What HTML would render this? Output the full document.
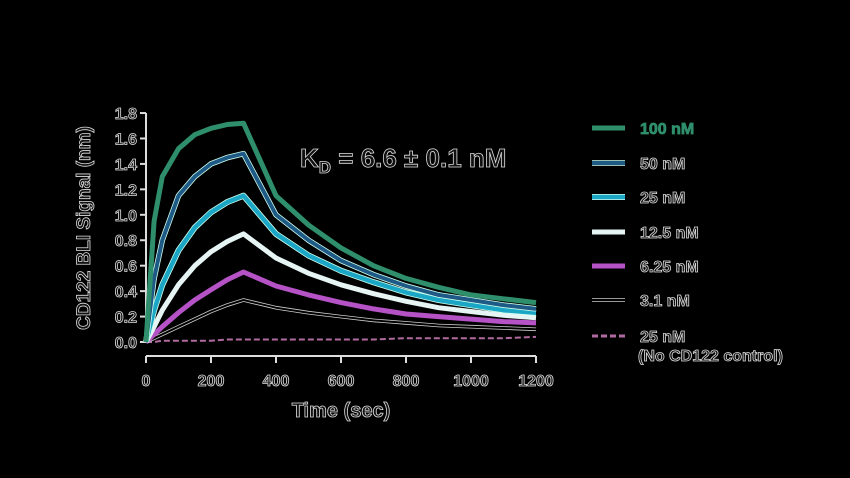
<!DOCTYPE html>
<html><head><meta charset="utf-8"><style>
body{margin:0;background:#000;}
svg text{font-family:"Liberation Sans",sans-serif;font-weight:bold;fill:#111;stroke:#ddd;stroke-width:0.8px;paint-order:normal;}
</style></head><body>
<svg id="chart" width="850" height="478" xmlns="http://www.w3.org/2000/svg" style="display:block;background:#000">
<g id="axes"></g>
<g id="series"></g>
<g id="legend"></g>
<text x="300" y="167" font-size="26">K<tspan font-size="17" dy="6">D</tspan><tspan dy="-6"> = 6.6 ± 0.1 nM</tspan></text>
<text x="341" y="417" font-size="20" text-anchor="middle">Time (sec)</text>
<text x="0" y="0" font-size="19" text-anchor="middle" transform="translate(90,228) rotate(-90)">CD122 BLI Signal (nm)</text>
</svg>
<script>
const times=[0,25,50,100,150,200,250,300,400,500,600,700,800,900,1000,1100,1200];
const s100=[0,0.95,1.3,1.52,1.63,1.68,1.71,1.72,1.15,0.92,0.74,0.6,0.5,0.43,0.37,0.34,0.31];
const s50=[0,0.5,0.8,1.15,1.3,1.4,1.45,1.48,1.0,0.8,0.64,0.53,0.44,0.37,0.33,0.29,0.26];
const s25=[0,0.25,0.45,0.72,0.9,1.02,1.1,1.15,0.85,0.68,0.56,0.47,0.39,0.33,0.29,0.25,0.23];
const s12=[0,0.12,0.25,0.45,0.6,0.71,0.79,0.85,0.66,0.54,0.45,0.38,0.32,0.27,0.24,0.21,0.19];
const s6=[0,0.06,0.12,0.23,0.33,0.41,0.49,0.55,0.44,0.37,0.31,0.26,0.22,0.2,0.18,0.16,0.15];
const s3=[0,0.03,0.06,0.12,0.18,0.24,0.29,0.33,0.27,0.23,0.2,0.17,0.15,0.13,0.12,0.11,0.10];
const sCtrl=[0,0.0,0.01,0.01,0.01,0.01,0.02,0.02,0.02,0.02,0.02,0.02,0.03,0.03,0.03,0.03,0.04];
const xTicks=[0,200,400,600,800,1000,1200];
const yTicks=[0,0.2,0.4,0.6,0.8,1.0,1.2,1.4,1.6,1.8];
const labels=["100 nM","50 nM","25 nM","12.5 nM","6.25 nM","3.1 nM","25 nM"];
const NS="http://www.w3.org/2000/svg";
const X=v=>146+v*(390/1200);
const Y=v=>342-v*127.2;
function mk(tag,attrs,parent){const e=document.createElementNS(NS,tag);for(const k in attrs)e.setAttribute(k,attrs[k]);parent.appendChild(e);return e;}
const axes=document.getElementById('axes');
let e=mk('line',{x1:146,y1:Y(1.8),x2:146,y2:Y(0),stroke:'#ddd','stroke-width':2},axes);

e=mk('line',{x1:146,y1:356,x2:X(1200),y2:356,stroke:'#ddd','stroke-width':2},axes);

yTicks.forEach(v=>{
 const t=mk('line',{x1:140,y1:Y(v),x2:146,y2:Y(v),stroke:'#ddd','stroke-width':2},axes);
 
 const l=mk('text',{x:137,y:Y(v)+6,'font-size':16,'text-anchor':'end'},axes);l.textContent=v.toFixed(1);
 
});
xTicks.forEach(v=>{
 const t=mk('line',{x1:X(v),y1:356,x2:X(v),y2:363,stroke:'#ddd','stroke-width':2},axes);
 
 const l=mk('text',{x:X(v),y:386,'font-size':16,'text-anchor':'middle'},axes);l.textContent=v;
 
});
const ser=document.getElementById('series');
const styles=[
 {d:s100,c:'#2f8f6c',w:5,o:null,n:'series-100nm'},
 {d:s50,c:'#1f5a86',w:4,o:'#cfe',n:'series-50nm'},
 {d:s25,c:'#1aa6c4',w:4.5,o:'#cfe',n:'series-25nm'},
 {d:s12,c:'#e6f4f4',w:5,o:null,n:'series-12-5nm'},
 {d:s6,c:'#b452c6',w:5,o:null,n:'series-6-25nm'},
 {d:s3,c:'#000',w:2,o:'#ccc',n:'series-3-1nm'},
 {d:sCtrl,c:'#b06aa0',w:2,o:null,n:'series-control',dash:'6 3'}
];
function pts(d){return d.map((v,i)=>X(times[i]).toFixed(1)+','+Y(v).toFixed(1)).join(' ');}
styles.slice().reverse().forEach(s=>{
 const g=mk('g',{},ser);
 
 if(s.o) mk('polyline',{points:pts(s.d),fill:'none',stroke:s.o,'stroke-width':s.w+1.6,'stroke-linejoin':'round'},g);
 const p=mk('polyline',{points:pts(s.d),fill:'none',stroke:s.c,'stroke-width':s.w,'stroke-linejoin':'round'},g);
 if(s.dash) p.setAttribute('stroke-dasharray',s.dash);
});
const leg=document.getElementById('legend');
const ly=[128,163,197,232,266,300,336];
styles.forEach((s,i)=>{
 const g=mk('g',{},leg);
 
 if(s.o) mk('line',{x1:592,y1:ly[i],x2:625,y2:ly[i],stroke:s.o,'stroke-width':s.w+1.6},g);
 const ln=mk('line',{x1:592,y1:ly[i],x2:625,y2:ly[i],stroke:s.c,'stroke-width':s.dash?3:s.w},g);
 if(s.dash) ln.setAttribute('stroke-dasharray',s.dash);
 const t=mk('text',{x:640,y:ly[i]+6,'font-size':16},g);t.textContent=labels[i];
 if(i===0)t.setAttribute('style','fill:#2f8f6c;stroke:#2f8f6c');
 if(i===6){const t2=mk('text',{x:638,y:ly[i]+25,'font-size':16},g);t2.textContent='(No CD122 control)';}
});
</script>
</body></html>
